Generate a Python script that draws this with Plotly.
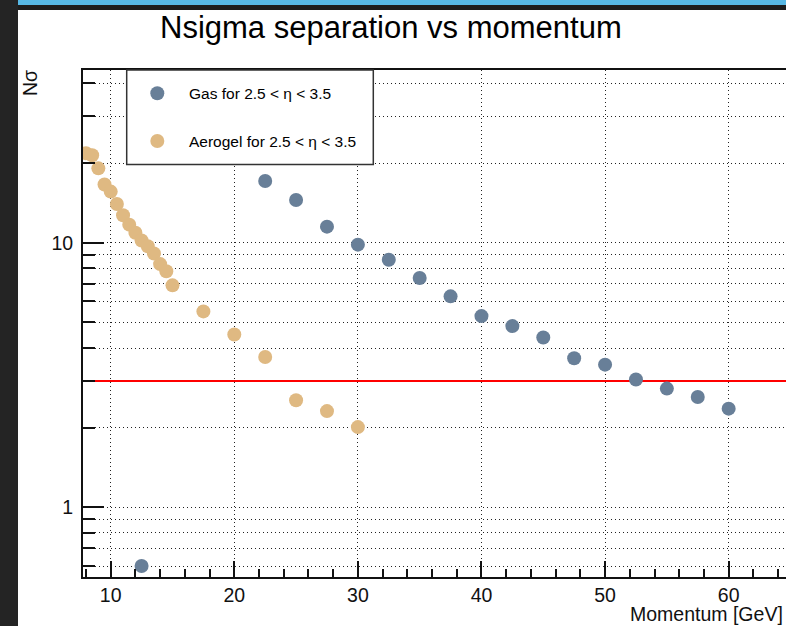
import plotly.graph_objects as go

# Momentum scan: number of sigma separation per radiator
gas_p = [12.5, 22.5, 25, 27.5, 30, 32.5, 35, 37.5, 40, 42.5, 45, 47.5, 50, 52.5, 55, 57.5, 60]
gas_nsigma = [0.60, 17.1, 14.5, 11.5, 9.83, 8.62, 7.36, 6.27, 5.28, 4.84, 4.38, 3.66, 3.46, 3.04, 2.81, 2.61, 2.36]

aerogel_p = [8, 8.5, 9, 9.5, 10, 10.5, 11, 11.5, 12, 12.5, 13, 13.5, 14, 14.5, 15,
             17.5, 20, 22.5, 25, 27.5, 30]
aerogel_nsigma = [21.8, 21.4, 19.1, 16.6, 15.6, 14.0, 12.7, 11.7, 10.9, 10.2, 9.7, 9.1, 8.3, 7.8, 6.9,
                  5.5, 4.5, 3.7, 2.54, 2.31, 2.01]

threshold = 3

gas_label = "Gas for 2.5 < η < 3.5"
aerogel_label = "Aerogel for 2.5 < η < 3.5"
title_text = "Nsigma separation vs momentum"
x_title = "Momentum [GeV]"
y_title = "Nσ"

x_major = [10, 20, 30, 40, 50, 60]
y_major = [1, 10]
y_minor = [0.6, 0.7, 0.8, 0.9, 2, 3, 4, 5, 6, 7, 8, 9, 20, 30, 40]

gas_color = "#687f98"
aerogel_color = "#dfb982"
grid_color = "#222"
grid_dash = "1px,3px"

W, H = 786, 626
ML, MR, MT, MB = 83, 0, 70, 49
PW, PH = W - ML - MR, H - MT - MB

x_range = [7.759, 64.64]
y_range = [-0.2634, 1.6527]

FONT = "Liberation Sans, Arial, Helvetica, sans-serif"


def fx(px):
    return (px - ML) / PW


def fy(py):
    return (H - MB - py) / PH


fig = go.Figure()

# threshold line
fig.add_trace(go.Scatter(
    x=x_range, y=[threshold, threshold], mode="lines",
    line=dict(color="#ff0000", width=2), showlegend=False, hoverinfo="skip"))

fig.add_trace(go.Scatter(
    x=gas_p, y=gas_nsigma, mode="markers", name=gas_label,
    marker=dict(color=gas_color, size=14, line=dict(width=0)), showlegend=False))

fig.add_trace(go.Scatter(
    x=aerogel_p, y=aerogel_nsigma, mode="markers", name=aerogel_label,
    marker=dict(color=aerogel_color, size=14, line=dict(width=0)), showlegend=False))

axis_common = dict(
    showline=True, linecolor="#111", linewidth=2,
    ticks="inside", tickcolor="#111", tickwidth=1.5,
    tickfont=dict(family=FONT, size=19.5, color="#111"),
    gridcolor=grid_color, griddash=grid_dash, gridwidth=1,
    zeroline=False,
)

fig.update_xaxes(
    range=x_range, tickvals=x_major, ticklen=16, showgrid=True, mirror=True,
    minor=dict(dtick=2, tick0=0, ticks="inside", ticklen=8, tickwidth=1.5,
               tickcolor="#111", showgrid=False),
    **axis_common)

fig.update_yaxes(
    type="log", range=y_range, tickvals=y_major, ticktext=[str(v) for v in y_major],
    ticklen=21, showgrid=True, ticklabelstandoff=4,
    minor=dict(tickvals=y_minor, ticks="inside", ticklen=12, tickwidth=1.5,
               tickcolor="#111", showgrid=True, gridcolor=grid_color,
               griddash=grid_dash, gridwidth=1),
    **axis_common)

shapes = [
    # dark surround on the left and top edges
    dict(type="rect", xref="paper", yref="paper", x0=fx(0), x1=fx(18), y0=fy(H), y1=fy(0),
         fillcolor="#242424", line=dict(width=0), layer="below"),
    dict(type="rect", xref="paper", yref="paper", x0=fx(18), x1=fx(W), y0=fy(10), y1=fy(0),
         fillcolor="#1d1d1d", line=dict(width=0), layer="below"),
    dict(type="rect", xref="paper", yref="paper", x0=fx(18), x1=fx(W), y0=fy(5), y1=fy(0),
         fillcolor="#57b8e5", line=dict(width=0), layer="below"),
    # legend box
    dict(type="rect", xref="paper", yref="paper", x0=fx(126.7), x1=fx(373.3), y0=fy(164.5), y1=fy(70),
         fillcolor="white", line=dict(color="#333", width=1.5), layer="above"),
]
for cy, col in [(93.3, gas_color), (141, aerogel_color)]:
    shapes.append(dict(type="circle", xref="paper", yref="paper",
                       xsizemode="pixel", ysizemode="pixel",
                       xanchor=fx(157.3), yanchor=fy(cy),
                       x0=-7, x1=7, y0=-7, y1=7,
                       fillcolor=col, line=dict(width=0), layer="above"))

annotations = [
    dict(text=title_text, xref="paper", yref="paper", x=fx(390.5), y=fy(27),
         xanchor="center", yanchor="middle", showarrow=False,
         font=dict(family=FONT, size=31, color="#000")),
    dict(text=x_title, xref="paper", yref="paper", x=fx(785), y=fy(614),
         xanchor="right", yanchor="middle", showarrow=False,
         font=dict(family=FONT, size=19.5, color="#111")),
    dict(text=y_title, xref="paper", yref="paper", x=fx(30), y=fy(83),
         xanchor="center", yanchor="middle", textangle=-90, showarrow=False,
         font=dict(family=FONT, size=19.5, color="#111")),
    dict(text=gas_label, xref="paper", yref="paper", x=fx(187), y=fy(93.3),
         xanchor="left", yanchor="middle", showarrow=False,
         font=dict(family=FONT, size=15.5, color="#000")),
    dict(text=aerogel_label, xref="paper", yref="paper", x=fx(187), y=fy(141),
         xanchor="left", yanchor="middle", showarrow=False,
         font=dict(family=FONT, size=15.5, color="#000")),
]

fig.update_layout(
    width=W, height=H,
    margin=dict(l=ML, r=MR, t=MT, b=MB, pad=0),
    paper_bgcolor="white", plot_bgcolor="white",
    shapes=shapes, annotations=annotations,
    showlegend=False,
)

fig.write_html("out.html", config={"displayModeBar": False})
